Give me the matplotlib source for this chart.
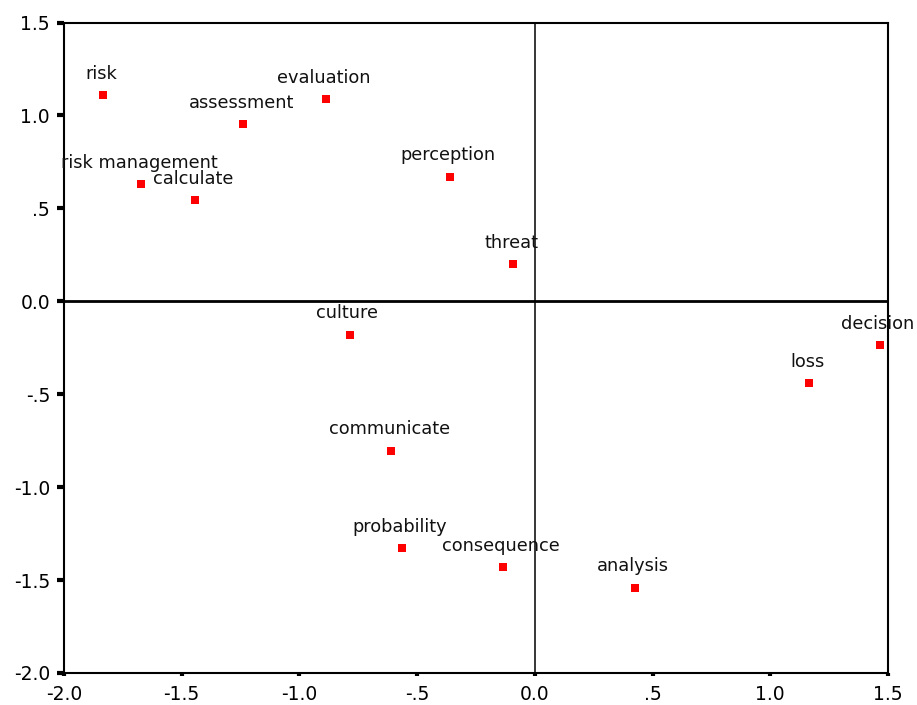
import matplotlib
matplotlib.use("Agg")
import matplotlib.pyplot as plt

labels = ["risk", "risk management", "calculate", "assessment", "evaluation",
          "perception", "threat", "culture", "communicate", "probability",
          "consequence", "analysis", "loss", "decision"]
dim1 = [-1.834, -1.672, -1.443, -1.238, -0.888, -0.362, -0.092, -0.787,
        -0.609, -0.566, -0.136, 0.424, 1.166, 1.464]
dim2 = [1.108, 0.629, 0.543, 0.952, 1.088, 0.670, 0.199, -0.181,
        -0.805, -1.328, -1.432, -1.541, -0.441, -0.237]

tick_vals = [-2.0, -1.5, -1.0, -0.5, 0.0, 0.5, 1.0, 1.5]
tick_labels = ["-2.0", "-1.5", "-1.0", "-.5", "0.0", ".5", "1.0", "1.5"]

plt.rcParams['font.family'] = ['DejaVu Sans']

fig = plt.figure(figsize=(9.17, 7.05), dpi=100)
ax = fig.add_axes([64/917, 1-673/705, (888-64)/917, (673-22.5)/705])

ax.scatter(dim1, dim2, marker='s', s=36, color='#ff0000', zorder=3, linewidths=0)
for lab, x, y in zip(labels, dim1, dim2):
    ax.annotate(lab, (x, y), xytext=(-1.5, 15.5), textcoords='offset points',
                ha='center', va='center', fontsize=12.8, color='#111111',
                annotation_clip=False, zorder=4)

ax.axhline(0, color='black', lw=2.0, zorder=2)
ax.axvline(0, color='black', lw=1.1, zorder=2)

ax.set_xlim(-2.0, 1.5)
ax.set_ylim(-2.0, 1.5)
ax.set_xticks(tick_vals)
ax.set_xticklabels(tick_labels)
ax.set_yticks(tick_vals)
ax.set_yticklabels(tick_labels)
ax.tick_params(axis='both', direction='out', width=3,
               labelsize=13.5, colors='black')
ax.tick_params(axis='y', length=5, pad=5)
ax.tick_params(axis='x', length=2.5, pad=6)
for sp in ax.spines.values():
    sp.set_linewidth(1.5)
    sp.set_color('black')

fig.savefig("out.png", dpi=100)
